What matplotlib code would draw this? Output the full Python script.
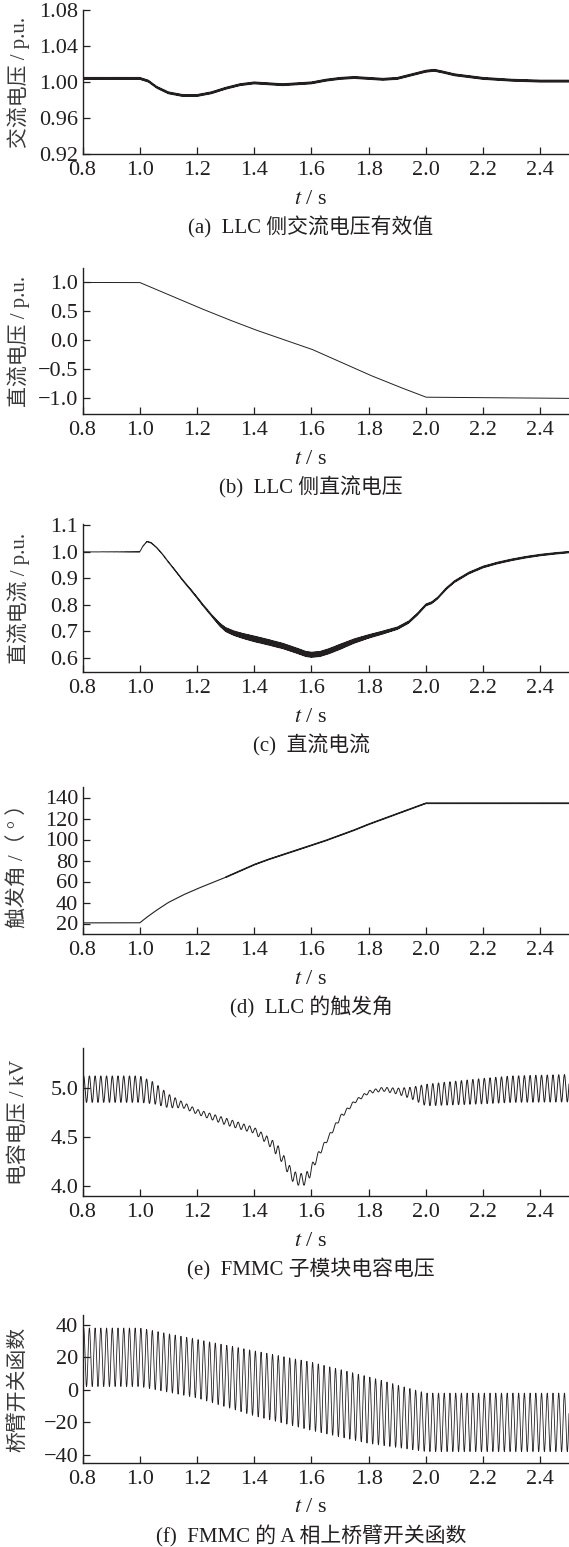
import numpy as np
import matplotlib.pyplot as plt

plt.rcParams['font.family'] = ['Liberation Serif', 'Noto Sans CJK SC']
plt.rcParams['mathtext.fontset'] = 'stix'
plt.rcParams['axes.unicode_minus'] = True

INK = '#231f20'
W, H = 569, 1547

# time grid for all traces
t = np.arange(0.8, 2.5001, 0.0002)

# (a) LLC side AC voltage rms: centre line and ripple half-width
t_a = [0.80, 1.00, 1.03, 1.06, 1.10, 1.15, 1.20, 1.25, 1.30, 1.35, 1.40, 1.45, 1.50, 1.55,
       1.60, 1.65, 1.70, 1.75, 1.80, 1.85, 1.90, 1.95, 2.00, 2.03, 2.06, 2.10, 2.15, 2.20,
       2.30, 2.40, 2.50]
v_a = [1.004, 1.004, 1.001, 0.994, 0.988, 0.985, 0.985, 0.988, 0.993, 0.997, 0.999, 0.998, 0.997, 0.998,
       0.999, 1.002, 1.004, 1.005, 1.004, 1.003, 1.004, 1.008, 1.012, 1.013, 1.011, 1.008, 1.006, 1.004,
       1.002, 1.001, 1.001]
rip_a = 0.0011

# (b) LLC side DC voltage
t_b = [0.8, 1.0, 1.1, 1.2, 1.3, 1.4, 1.5, 1.6, 1.7, 1.8, 1.9, 2.0, 2.5]
v_b = [1.0, 1.0, 0.79, 0.58, 0.38, 0.19, 0.02, -0.15, -0.37, -0.59, -0.79, -0.98, -1.0]

# (c) DC current
t_c = [0.80, 1.00, 1.01, 1.025, 1.04, 1.06, 1.08, 1.10, 1.12, 1.15, 1.18, 1.20, 1.22, 1.25,
       1.28, 1.30, 1.33, 1.36, 1.40, 1.45, 1.50, 1.55, 1.58, 1.60, 1.63, 1.66, 1.70, 1.75,
       1.80, 1.85, 1.90, 1.94, 1.97, 2.00, 2.02, 2.04, 2.07, 2.10, 2.15, 2.20, 2.25, 2.30,
       2.35, 2.40, 2.45, 2.50]
v_c = [1.000, 1.000, 1.020, 1.039, 1.034, 1.015, 0.990, 0.962, 0.935, 0.893, 0.855, 0.828, 0.800, 0.762,
       0.725, 0.707, 0.693, 0.683, 0.672, 0.659, 0.645, 0.627, 0.615, 0.612, 0.615, 0.625, 0.642, 0.664,
       0.681, 0.696, 0.712, 0.735, 0.765, 0.800, 0.808, 0.825, 0.860, 0.888, 0.920, 0.943, 0.958, 0.970,
       0.980, 0.988, 0.994, 0.999]
t_rc = [0.80, 1.00, 1.10, 1.25, 1.30, 1.40, 1.60, 1.70, 1.80, 1.90, 2.00, 2.50]
rip_c = [0.000, 0.001, 0.002, 0.004, 0.008, 0.011, 0.010, 0.010, 0.007, 0.005, 0.004, 0.003]

# (d) LLC firing angle
t_d = [0.80, 1.00, 1.02, 1.05, 1.08, 1.10, 1.15, 1.20, 1.25, 1.30, 1.35, 1.40, 1.45, 1.50,
       1.55, 1.60, 1.65, 1.70, 1.75, 1.80, 1.85, 1.90, 1.95, 2.00, 2.50]
v_d = [20.6, 20.6, 25, 31, 36.5, 40, 47, 53, 58.5, 64, 70, 76, 81, 85.5,
       90, 94.5, 99, 104, 109, 114.5, 119.5, 124.5, 129.5, 134.5, 134.5]

# (e) FMMC submodule capacitor voltage: centre and 50 Hz ripple amplitude
t_e = [0.80, 1.00, 1.05, 1.10, 1.15, 1.20, 1.30, 1.40, 1.45, 1.48, 1.50, 1.53, 1.55, 1.58,
       1.60, 1.62, 1.65, 1.70, 1.75, 1.80, 1.85, 1.90, 1.95, 2.00, 2.10, 2.20, 2.30, 2.50]
c_e = [4.99, 4.99, 4.95, 4.87, 4.83, 4.76, 4.66, 4.57, 4.46, 4.37, 4.28, 4.12, 4.07, 4.07,
       4.17, 4.30, 4.45, 4.70, 4.86, 4.96, 4.99, 4.97, 4.95, 4.93, 4.95, 4.97, 4.99, 5.00]
a_e = [0.135, 0.135, 0.11, 0.07, 0.03, 0.025, 0.035, 0.03, 0.04, 0.06, 0.05, 0.06, 0.06, 0.06,
       0.05, 0.03, 0.02, 0.02, 0.015, 0.015, 0.02, 0.03, 0.06, 0.11, 0.12, 0.13, 0.135, 0.14]

# (f) phase A upper arm switching function: upper / lower envelope of 50 Hz swing
t_f = [0.8, 1.0, 1.2, 1.4, 1.6, 1.8, 2.0, 2.5]
hi_f = [38, 38, 31, 24, 17, 8, -2, -2]
lo_f = [2, 2, -5, -16, -25, -33, -38, -38]

ylabels = ['交流电压 / p.u.', '直流电压 / p.u.', '直流电流 / p.u.',
           '触发角 /（ ° ）', '电容电压 / kV', '桥臂开关函数']
captions = ['(a)  LLC 侧交流电压有效值', '(b)  LLC 侧直流电压', '(c)  直流电流',
            '(d)  LLC 的触发角', '(e)  FMMC 子模块电容电压', '(f)  FMMC 的 A 相上桥臂开关函数']
yticks = [[0.92, 0.96, 1.00, 1.04, 1.08],
          [-1.0, -0.5, 0.0, 0.5, 1.0],
          [0.6, 0.7, 0.8, 0.9, 1.0, 1.1],
          [20, 40, 60, 80, 100, 120, 140],
          [4.0, 4.5, 5.0],
          [-40, -20, 0, 20, 40]]
yticklabels = [['0.92', '0.96', '1.00', '1.04', '1.08'],
               ['\u22121.0', '\u22120.5', '0.0', '0.5', '1.0'],
               ['0.6', '0.7', '0.8', '0.9', '1.0', '1.1'],
               ['20', '40', '60', '80', '100', '120', '140'],
               ['4.0', '4.5', '5.0'],
               ['\u221240', '\u221220', '0', '20', '40']]
ylims = [(0.92, 1.08), (-1.27, 1.25), (0.547, 1.105), (10, 150), (3.9, 5.41), (-45, 46)]
xticks = [0.8, 1.0, 1.2, 1.4, 1.6, 1.8, 2.0, 2.2, 2.4]

# pixel extents (top, bottom) of each axes box
boxes = [(10, 154), (268, 414), (524, 672), (787, 934), (1048, 1196), (1315, 1463)]
left_px = 82.5

ripple = np.sin(2 * np.pi * 300 * t)
wave50 = np.sin(2 * np.pi * 50 * (t - 0.8) + 0.3)

traces = []
traces.append(np.interp(t, t_a, v_a) + rip_a * ripple)
traces.append(np.interp(t, t_b, v_b))
traces.append(np.interp(t, t_c, v_c) + np.interp(t, t_rc, rip_c) * ripple)
traces.append(np.interp(t, t_d, v_d) + 0.4 * ripple * (t > 1.3))
traces.append(np.interp(t, t_e, c_e) + np.interp(t, t_e, a_e) * wave50)
hi = np.interp(t, t_f, hi_f)
lo = np.interp(t, t_f, lo_f)
traces.append((hi + lo) / 2 + (hi - lo) / 2 * wave50)
widths = [0.8, 0.7, 0.7, 0.8, 0.7, 0.6]

fig = plt.figure(figsize=(W / 100, H / 100), dpi=100)

for i, (top, bot) in enumerate(boxes):
    ax = fig.add_axes([left_px / W, 1 - bot / H, 1 - left_px / W, (bot - top) / H])
    ax.plot(t, traces[i], color=INK, lw=widths[i])
    ax.set_xlim(0.8, 2.5)
    ax.set_ylim(*ylims[i])
    ax.set_xticks(xticks)
    ax.set_xticklabels([f'{x:.1f}' for x in xticks])
    ax.set_yticks(yticks[i])
    ax.set_yticklabels(yticklabels[i])
    for s in ['top', 'right']:
        ax.spines[s].set_visible(False)
    for s in ['left', 'bottom']:
        ax.spines[s].set_linewidth(1.0)
        ax.spines[s].set_color(INK)
    ax.tick_params(direction='in', length=5, width=0.9, colors=INK,
                   labelsize=16, pad=3)
    ax.tick_params(axis='x', pad=5)

    fig.text(19 / W, 1 - (top + bot) / 2 / H, ylabels[i], rotation=90,
             ha='center', va='center', fontsize=15, color='#3a3a3a')
    fig.text(311 / W, 1 - (bot + 45) / H, '$t$ / s',
             ha='center', va='center', fontsize=16, color=INK)
    fig.text(311 / W, 1 - (bot + 73) / H, captions[i],
             ha='center', va='center', fontsize=15, color=INK)

fig.savefig('out.png', dpi=100)
